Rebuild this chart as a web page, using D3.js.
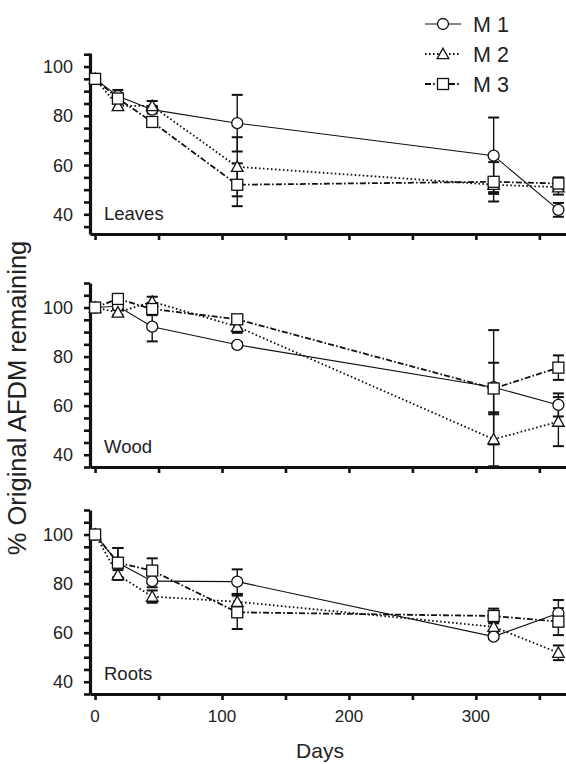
<!DOCTYPE html>
<html>
<head>
<meta charset="utf-8">
<script src="https://cdn.jsdelivr.net/npm/d3@7"></script>
<style>
  body { margin: 0; background: #fff; }
  text { font-family: "Liberation Sans", Arial, sans-serif; fill: #222; }
</style>
</head>
<body>
<div id="chart"></div>
<script>
const days = [0, 18, 45, 112, 314, 365];
const seriesNames = ["M 1", "M 2", "M 3"];
const panelNames = ["Leaves", "Wood", "Roots"];

// mean values per panel, per series
const leavesM1 = [95, 88, 82.5, 77, 63.8, 41.8];
const leavesM2 = [95, 84, 84, 59.3, 52, 51];
const leavesM3 = [95, 87, 77.5, 52, 53.2, 52.5];
const woodM1 = [100, 100.5, 92.2, 84.8, 67.5, 60.3];
const woodM2 = [100, 98, 102.4, 92.2, 46.3, 53.5];
const woodM3 = [100, 103.5, 99.4, 95.2, 67, 75.5];
const rootsM1 = [100, 88.5, 81, 80.8, 58.4, 67.9];
const rootsM2 = [100, 83.5, 74.7, 72.6, 62.4, 51.8];
const rootsM3 = [100, 88.5, 85.3, 68.3, 66.8, 64.5];

// error bar half-widths
const leavesM1Err = [0, 2.5, 1.5, 11.5, 15.5, 2.8];
const leavesM2Err = [0, 1.5, 2, 12, 3, 3];
const leavesM3Err = [0, 2, 1.5, 8.7, 8, 2.5];
const woodM1Err = [0, 1, 6, 1, 23.3, 4.7];
const woodM2Err = [0, 1, 2, 2.5, 11, 10];
const woodM3Err = [0, 1, 2.5, 1.5, 10.5, 5];
const rootsM1Err = [0, 6, 2.5, 5, 1, 5.4];
const rootsM2Err = [0, 2, 2.5, 3, 2, 3];
const rootsM3Err = [0, 6, 5, 6.8, 3, 5.5];

const yTickLabels = [40, 60, 80, 100];
const xTickLabels = [0, 100, 200, 300];

const width = 566, height = 764;
const svg = d3.select("#chart").append("svg").attr("width", width).attr("height", height);

const x = d3.scaleLinear().domain([-4, 371]).range([90, 566]);

const panels = [
  { name: panelNames[0], domain: [32, 105.5], range: [234, 53], vals: [leavesM1, leavesM2, leavesM3], errs: [leavesM1Err, leavesM2Err, leavesM3Err] },
  { name: panelNames[1], domain: [35, 110], range: [467, 283], vals: [woodM1, woodM2, woodM3], errs: [woodM1Err, woodM2Err, woodM3Err] },
  { name: panelNames[2], domain: [35, 110], range: [694, 510], vals: [rootsM1, rootsM2, rootsM3], errs: [rootsM1Err, rootsM2Err, rootsM3Err] }
];

const lineStyles = [
  { dash: null, width: 1.1 },
  { dash: "1.6,2.4", width: 1.8 },
  { dash: "6,2.2,1.6,2.2", width: 1.8 }
];

function drawMarker(g, type, cx, cy) {
  if (type === 0) {
    g.append("circle").attr("cx", cx).attr("cy", cy).attr("r", 5.5)
      .attr("fill", "#fff").attr("stroke", "#111").attr("stroke-width", 1.3);
  } else if (type === 1) {
    const s = 5.8;
    g.append("path")
      .attr("d", `M${cx},${cy - s} L${cx + s},${cy + s * 0.8} L${cx - s},${cy + s * 0.8} Z`)
      .attr("fill", "#fff").attr("stroke", "#111").attr("stroke-width", 1.3);
  } else {
    g.append("rect").attr("x", cx - 5.5).attr("y", cy - 5.5).attr("width", 11).attr("height", 11)
      .attr("fill", "#fff").attr("stroke", "#111").attr("stroke-width", 1.3);
  }
}

panels.forEach((p, pi) => {
  const y = d3.scaleLinear().domain(p.domain).range(p.range);
  const g = svg.append("g");

  // y axis
  const yAxis = g.append("g").attr("transform", `translate(${x.range()[0]},0)`)
    .call(d3.axisLeft(y).tickValues(d3.range(35, p.domain[1] + 0.1, 5)).tickSize(6).tickSizeOuter(0).tickFormat(""));
  yAxis.select(".domain").attr("stroke", "#111").attr("stroke-width", 3.2);
  yAxis.selectAll(".tick line").attr("stroke", "#111").attr("stroke-width", 2.6);
  yTickLabels.forEach(v => {
    g.append("text").attr("x", 73).attr("y", y(v)).attr("dy", "0.36em")
      .attr("text-anchor", "end").attr("font-size", 18).text(v);
  });

  // x axis
  const xAxis = g.append("g").attr("transform", `translate(0,${p.range[0]})`)
    .call(d3.axisBottom(x).tickValues(d3.range(0, 351, 50)).tickSize(6).tickSizeOuter(0).tickFormat(""));
  xAxis.select(".domain").attr("stroke", "#111").attr("stroke-width", 3.2);
  xAxis.selectAll(".tick line").attr("stroke", "#111").attr("stroke-width", 2.6);

  if (pi === 2) {
    xTickLabels.forEach(v => {
      g.append("text").attr("x", x(v)).attr("y", 722).attr("text-anchor", "middle")
        .attr("font-size", 17).text(v);
    });
  }

  // panel name
  g.append("text").attr("x", 104).attr("y", p.range[0] - 14).attr("font-size", 18.5).text(p.name);

  // lines
  p.vals.forEach((vals, si) => {
    const pts = days.map((d, i) => [x(d), y(vals[i])]);
    const path = g.append("path").datum(pts)
      .attr("fill", "none").attr("stroke", "#111")
      .attr("stroke-width", lineStyles[si].width)
      .attr("d", d3.line());
    if (lineStyles[si].dash) path.attr("stroke-dasharray", lineStyles[si].dash);
  });

  // error bars
  p.vals.forEach((vals, si) => {
    days.forEach((d, i) => {
      const e = p.errs[si][i];
      if (!e) return;
      const cx = x(d), y1 = y(vals[i] + e), y2 = y(vals[i] - e);
      g.append("line").attr("x1", cx).attr("x2", cx).attr("y1", y1).attr("y2", y2)
        .attr("stroke", "#111").attr("stroke-width", 1.4);
      [y1, y2].forEach(yy => {
        g.append("line").attr("x1", cx - 5.5).attr("x2", cx + 5.5).attr("y1", yy).attr("y2", yy)
          .attr("stroke", "#111").attr("stroke-width", 2);
      });
    });
  });

  // markers
  p.vals.forEach((vals, si) => {
    days.forEach((d, i) => drawMarker(g, si, x(d), y(vals[i])));
  });
});

// legend
const legend = svg.append("g");
seriesNames.forEach((name, si) => {
  const ly = 24 + si * 30;
  const ln = legend.append("line").attr("x1", 425).attr("x2", 461).attr("y1", ly).attr("y2", ly)
    .attr("stroke", "#111").attr("stroke-width", lineStyles[si].width);
  if (lineStyles[si].dash) ln.attr("stroke-dasharray", lineStyles[si].dash);
  drawMarker(legend, si, 443, ly);
  legend.append("text").attr("x", 473).attr("y", ly).attr("dy", "0.36em")
    .attr("font-size", 21.5).attr("xml:space", "preserve").text(name);
});

// axis titles
svg.append("text").attr("x", 320).attr("y", 758).attr("text-anchor", "middle")
  .attr("font-size", 21).text("Days");
svg.append("text").attr("transform", "translate(26,398) rotate(-90)").attr("text-anchor", "middle")
  .attr("font-size", 25.5).text("% Original AFDM remaining");
</script>
</body>
</html>
